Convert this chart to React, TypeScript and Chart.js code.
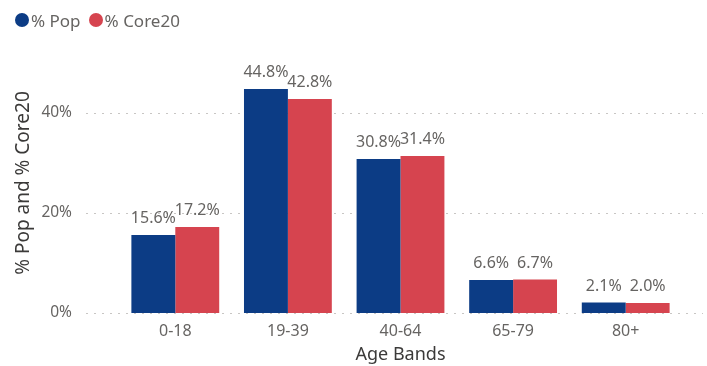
import React, { useEffect, useRef } from "react";
import { Chart, registerables } from "chart.js";

Chart.register(...registerables);

const categories = ["0-18", "19-39", "40-64", "65-79", "80+"];
const popValues = [15.6, 44.8, 30.8, 6.6, 2.1];
const core20Values = [17.2, 42.8, 31.4, 6.7, 2.0];
const yTickValues = [0, 20, 40];
const seriesNames = ["% Pop", "% Core20"];
const yAxisTitle = "% Pop and % Core20";
const xAxisTitle = "Age Bands";

const BLUE = "#0C3C85";
const RED = "#D6444F";
const seriesColors = [BLUE, RED];
const FONT = "'Noto Sans', 'Open Sans', sans-serif";
const TEXT = "#666462";
const TITLE = "#3B3A39";

const gridPlugin = {
  id: "dottedGrid",
  beforeDatasetsDraw(chart: any) {
    const ctx = chart.ctx;
    const y = chart.scales.y;
    ctx.save();
    ctx.strokeStyle = "#C8C6C4";
    ctx.lineWidth = 1;
    ctx.setLineDash([2, 6]);
    yTickValues.forEach((v) => {
      const py = Math.round(y.getPixelForValue(v)) + 0.5;
      ctx.beginPath();
      ctx.moveTo(86, py);
      ctx.lineTo(703, py);
      ctx.stroke();
    });
    ctx.restore();
  },
};

const labelPlugin = {
  id: "barLabels",
  afterDatasetsDraw(chart: any) {
    const ctx = chart.ctx;
    ctx.save();
    ctx.font = `16px ${FONT}`;
    ctx.fillStyle = TEXT;
    ctx.textAlign = "center";
    ctx.textBaseline = "alphabetic";
    chart.data.datasets.forEach((ds: any, di: number) => {
      const meta = chart.getDatasetMeta(di);
      meta.data.forEach((bar: any, i: number) => {
        ctx.fillText(ds.data[i].toFixed(1) + "%", bar.x, bar.y - 12);
      });
    });
    // y axis title
    ctx.translate(24, 183);
    ctx.rotate(-Math.PI / 2);
    ctx.font = `19px ${FONT}`;
    ctx.fillStyle = TITLE;
    ctx.textBaseline = "middle";
    ctx.fillText(yAxisTitle, 0, 0);
    ctx.restore();
  },
};

export default function App() {
  const ref = useRef<HTMLCanvasElement>(null);
  useEffect(() => {
    if (!ref.current) return;
    const chart = new Chart(ref.current, {
      type: "bar",
      data: {
        labels: categories,
        datasets: [
          { label: seriesNames[0], data: popValues, backgroundColor: BLUE, borderWidth: 0 },
          { label: seriesNames[1], data: core20Values, backgroundColor: RED, borderWidth: 0 },
        ],
      },
      plugins: [gridPlugin, labelPlugin],
      options: {
        responsive: false,
        animation: false,
        layout: { padding: { top: 63, right: 25, left: 0, bottom: 0 } },
        datasets: { bar: { categoryPercentage: 0.78, barPercentage: 1.0 } },
        plugins: {
          tooltip: { enabled: false },
          legend: { display: false },
        },
        scales: {
          x: {
            grid: { display: false },
            border: { display: false },
            ticks: { color: TEXT, font: { family: FONT, size: 16 }, padding: 1 },
            title: {
              display: true,
              text: xAxisTitle,
              color: TITLE,
              font: { family: FONT, size: 18 },
              align: "center",
              padding: { top: 0, bottom: 0 },
            },
            afterFit(scale: any) {
              scale.height = 53;
            },
          },
          y: {
            min: 0,
            max: 50,
            grid: { display: false },
            border: { display: false },
            ticks: {
              color: TEXT,
              font: { family: FONT, size: 15.5 },
              padding: 39,
              callback: (v: any) => v + "%",
            },
            afterBuildTicks(scale: any) {
              scale.ticks = yTickValues.map((v) => ({ value: v }));
            },
            title: { display: false },
            afterFit(scale: any) {
              scale.width = 119;
            },
          },
        },
      },
    });
    return () => chart.destroy();
  }, []);
  return (
    <div style={{ position: "absolute", left: 0, top: 0, width: 707, height: 366, background: "#fff" }}>
      <canvas ref={ref} width={707} height={366} style={{ display: "block" }} />
      <div
        style={{
          position: "absolute",
          left: 15,
          top: 9,
          height: 22,
          display: "flex",
          alignItems: "center",
          fontFamily: FONT,
          fontSize: 17,
          color: TEXT,
          whiteSpace: "nowrap",
        }}
      >
        {seriesNames.map((name, i) => (
          <div key={name} style={{ display: "flex", alignItems: "center", marginRight: 8 }}>
            <span
              style={{
                display: "inline-block",
                width: 14,
                height: 14,
                borderRadius: 7,
                background: seriesColors[i],
                marginRight: 2,
              }}
            />
            <span>{name}</span>
          </div>
        ))}
      </div>
    </div>
  );
}
